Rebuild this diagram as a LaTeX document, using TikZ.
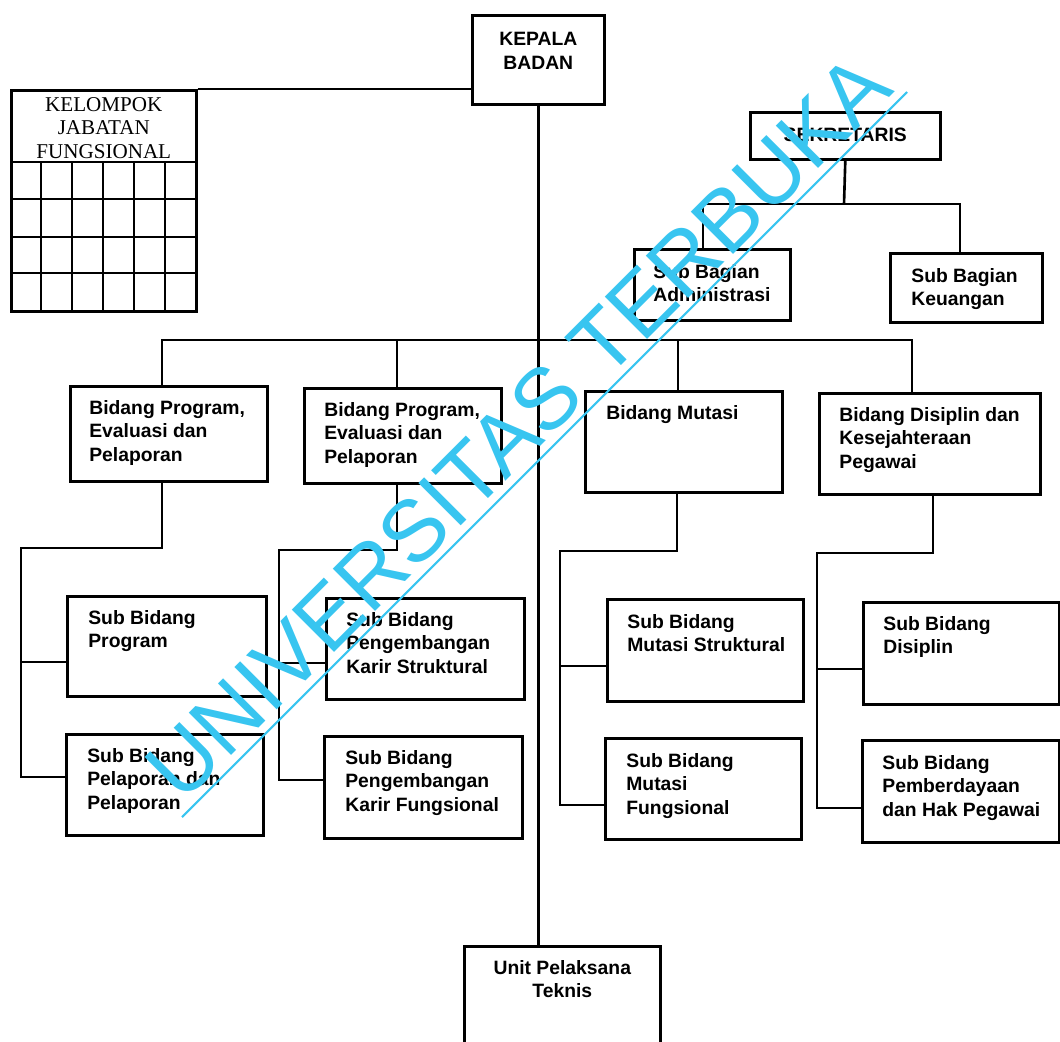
\documentclass[tikz,border=0pt]{standalone}
\usepackage{fontspec}
\setmainfont{Liberation Sans}
\newfontfamily\serifkjf{Liberation Serif}
\usetikzlibrary{positioning}
\definecolor{wmcyan}{RGB}{56,197,240}

\tikzset{
	box/.style={draw, line width=1.5pt, anchor=north west, inner sep=0pt},
	txt/.style={font=\bfseries\fontsize{11}{13.4}\selectfont, align=left, inner sep=0pt},
	ctxt/.style={txt, align=center},
	kjftxt/.style={font=\serifkjf\fontsize{12}{13.4}\selectfont, align=center, inner sep=0pt},
	conn/.style={line width=1.5pt},
}

\begin{document}
\begin{tikzpicture}[x=0.02cm, y=-0.02cm]
				\useasboundingbox (0,0) rectangle (1060,1041);
				\clip (0,0) rectangle (1060,1041);
				
				% boxes
				\node[box, minimum width=2.64cm, minimum height=1.78cm] (kepala) at (471,14) {};
				\node[box, minimum width=3.70cm, minimum height=4.42cm] (kjf) at (10,89) {};
				\node[box, minimum width=3.80cm, minimum height=0.94cm] (sekr) at (749,111) {};
				\node[box, minimum width=3.12cm, minimum height=1.42cm] (sbadm) at (633,248) {};
				\node[box, minimum width=3.04cm, minimum height=1.38cm] (sbkeu) at (889,252) {};
				\node[box, minimum width=3.94cm, minimum height=1.90cm] (bid1) at (69,385) {};
				\node[box, minimum width=3.94cm, minimum height=1.90cm] (bid2) at (303,387) {};
				\node[box, minimum width=3.94cm, minimum height=2.02cm] (bmut) at (584,390) {};
				\node[box, minimum width=4.42cm, minimum height=2.02cm] (bdis) at (818,392) {};
				\node[box, minimum width=3.98cm, minimum height=2.00cm] (sbprog) at (66,595) {};
				\node[box, minimum width=3.94cm, minimum height=2.02cm] (sbpel) at (65,733) {};
				\node[box, minimum width=3.96cm, minimum height=2.02cm] (sbks) at (325,597) {};
				\node[box, minimum width=3.96cm, minimum height=2.04cm] (sbkf) at (323,735) {};
				\node[box, minimum width=3.92cm, minimum height=2.04cm] (sbms) at (606,598) {};
				\node[box, minimum width=3.92cm, minimum height=2.02cm] (sbmf) at (604,737) {};
				\node[box, minimum width=3.92cm, minimum height=2.04cm] (sbdis) at (862,601) {};
				\node[box, minimum width=3.94cm, minimum height=2.04cm] (sbpem) at (861,739) {};
				\node[box, minimum width=3.92cm, minimum height=2.30cm] (upt) at (463,945) {};
				
				% grid of the kelompok box
				\foreach \y in {162,199,237,273}
					\draw[conn] (10,\y) -- (195,\y);
				\foreach \x in {41,72,103,134,165}
					\draw[conn] (\x,162) -- (\x,310);
				
				% texts
				\node[ctxt, below=0.36cm of kepala.north] (kepala-t) {KEPALA\\BADAN};
				\node[kjftxt, below=0.16cm of kjf.north] (kjf-t) {KELOMPOK\\JABATAN\\FUNGSIONAL};
				\node[ctxt, below=0.34cm of sekr.north] (sekr-t) {SEKRETARIS};
				\node[txt, below right=0.32cm and 0.40cm of sbadm.north west] (sbadm-t) {Sub Bagian\\Administrasi};
				\node[txt, below right=0.32cm and 0.44cm of sbkeu.north west] (sbkeu-t) {Sub Bagian\\Keuangan};
				\node[txt, below right=0.30cm and 0.40cm of bid1.north west] (bid1-t) {Bidang Program,\\Evaluasi dan\\Pelaporan};
				\node[txt, below right=0.30cm and 0.42cm of bid2.north west] (bid2-t) {Bidang Program,\\Evaluasi dan\\Pelaporan};
				\node[txt, below right=0.30cm and 0.44cm of bmut.north west] (bmut-t) {Bidang Mutasi};
				\node[txt, below right=0.30cm and 0.42cm of bdis.north west] (bdis-t) {Bidang Disiplin dan\\Kesejahteraan\\Pegawai};
				\node[txt, below right=0.30cm and 0.44cm of sbprog.north west] (sbprog-t) {Sub Bidang\\Program};
				\node[txt, below right=0.30cm and 0.44cm of sbpel.north west] (sbpel-t) {Sub Bidang\\Pelaporan dan\\Pelaporan};
				\node[txt, below right=0.30cm and 0.42cm of sbks.north west] (sbks-t) {Sub Bidang\\Pengembangan\\Karir Struktural};
				\node[txt, below right=0.30cm and 0.44cm of sbkf.north west] (sbkf-t) {Sub Bidang\\Pengembangan\\Karir Fungsional};
				\node[txt, below right=0.32cm and 0.42cm of sbms.north west] (sbms-t) {Sub Bidang\\Mutasi Struktural};
				\node[txt, below right=0.32cm and 0.44cm of sbmf.north west] (sbmf-t) {Sub Bidang\\Mutasi\\Fungsional};
				\node[txt, below right=0.30cm and 0.42cm of sbdis.north west] (sbdis-t) {Sub Bidang\\Disiplin};
				\node[txt, below right=0.32cm and 0.42cm of sbpem.north west] (sbpem-t) {Sub Bidang\\Pemberdayaan\\dan Hak Pegawai};
				\node[ctxt, below=0.30cm of upt.north] (upt-t) {Unit Pelaksana\\Teknis};
				
				% top lines
				\draw[conn] (kjf.north east) -- (kjf.north east -| kepala.west);
				\draw[conn] (kepala.south) -- (kepala.south |- upt.north);
				
				\coordinate (sj) at (844,204);
				\coordinate (sjL) at (703,204);
				\coordinate (sjR) at (960,204);
				\draw[conn] (sekr.south) -- (sj);
				\draw[conn] (sjL |- sbadm.north) -- (sjL) -- (sjR) -- (sjR |- sbkeu.north);
				
				% bus to the bidang boxes
				\coordinate (busL) at (162,340);
				\coordinate (busR) at (912,340);
				\draw[conn] (busL |- bid1.north) -- (busL) -- (busR) -- (busR |- bdis.north);
				\draw[conn] (397,340) -- (397,340 |- bid2.north);
				\draw[conn] (678,340) -- (678,340 |- bmut.north);
				
				% bidang down to sub bidang
				\coordinate (c1a) at (162,548);
				\coordinate (c1b) at (21,548);
				\coordinate (c1c) at (21,662);
				\coordinate (c1d) at (21,777);
				\draw[conn] (c1a |- bid1.south) -- (c1a) -- (c1b) -- (c1d) -- (c1d -| sbpel.west);
				\draw[conn] (c1c) -- (c1c -| sbprog.west);
				
				\coordinate (c2a) at (397,550);
				\coordinate (c2b) at (279,550);
				\coordinate (c2c) at (279,663);
				\coordinate (c2d) at (279,780);
				\draw[conn] (c2a |- bid2.south) -- (c2a) -- (c2b) -- (c2d) -- (c2d -| sbkf.west);
				\draw[conn] (c2c) -- (c2c -| sbks.west);
				
				\coordinate (c3a) at (677,551);
				\coordinate (c3b) at (560,551);
				\coordinate (c3c) at (560,666);
				\coordinate (c3d) at (560,805);
				\draw[conn] (c3a |- bmut.south) -- (c3a) -- (c3b) -- (c3d) -- (c3d -| sbmf.west);
				\draw[conn] (c3c) -- (c3c -| sbms.west);
				
				\coordinate (c4a) at (933,553);
				\coordinate (c4b) at (817,553);
				\coordinate (c4c) at (817,669);
				\coordinate (c4d) at (817,808);
				\draw[conn] (c4a |- bdis.south) -- (c4a) -- (c4b) -- (c4d) -- (c4d -| sbpem.west);
				\draw[conn] (c4c) -- (c4c -| sbdis.west);
				
				% watermark
				\coordinate (wmA) at (182,817);
				\coordinate (wmB) at (907,92);
				\draw[wmcyan, line width=1.2pt] (wmA) -- (wmB);
				\node[wmcyan, font=\fontsize{49.5}{50}\selectfont, rotate=45, anchor=base, inner sep=0pt] (wm) at (539,448) {UNIVERSITAS TERBUKA};
			\end{tikzpicture}
\end{document}
